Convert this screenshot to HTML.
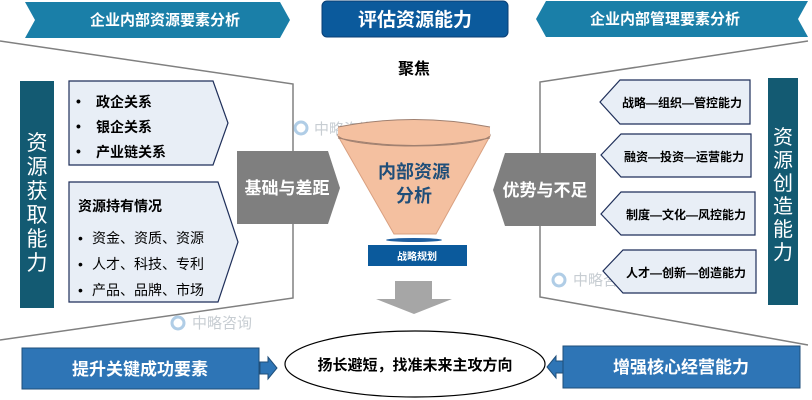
<!DOCTYPE html>
<html><head><meta charset="utf-8"><style>
body{margin:0;background:#fff}
svg{display:block;font-family:"Liberation Sans","Noto Sans CJK SC",sans-serif}
</style></head><body>
<svg width="812" height="400" viewBox="0 0 812 400" xmlns="http://www.w3.org/2000/svg">
<!-- top banners -->
<polygon points="25,2 280,2 290,20 280,38 25,38 35,20" fill="#1a7fa8"/>
<text x="165" y="25" fill="#fff" font-size="15" font-weight="bold" text-anchor="middle">企业内部资源要素分析</text>
<rect x="322" y="1" width="186" height="36" rx="5" fill="#0b5a9c" stroke="#0a3f75"/>
<text x="415" y="26" fill="#fff" font-size="19" font-weight="bold" text-anchor="middle">评估资源能力</text>
<polygon points="546,1 808,1 798,19 808,37 546,37 536,19" fill="#1a7fa8"/>
<text x="665" y="24" fill="#fff" font-size="15" font-weight="bold" text-anchor="middle">企业内部管理要素分析</text>
<!-- frame lines -->
<g stroke="#808080" stroke-width="1.5" fill="none">
<polyline points="0,41 293,84 293,152"/>
<polyline points="293,224 293,298 0,340"/>
<polyline points="808,41 540,82 540,155"/>
<polyline points="540,226 540,297 808,345"/>
</g>
<!-- watermarks -->
<g fill="#b0b8c0" font-size="15" opacity="0.7">
<circle cx="301" cy="128" r="6" fill="none" stroke="#8fb8dc" stroke-width="3"/><text x="314" y="134">中略咨询</text>
<circle cx="178" cy="323" r="6" fill="none" stroke="#8fb8dc" stroke-width="3"/><text x="192" y="328">中略咨询</text>
<circle cx="559" cy="280" r="6" fill="none" stroke="#8fb8dc" stroke-width="3"/><text x="573" y="285">中略咨询</text>
</g>
<!-- left bar -->
<rect x="20" y="81" width="34" height="227" fill="#135a72"/>
<g fill="#fff" font-size="21" text-anchor="middle">
<text x="37" y="150">资</text><text x="37" y="174">源</text><text x="37" y="198">获</text><text x="37" y="222">取</text><text x="37" y="246">能</text><text x="37" y="270">力</text>
</g>
<polygon points="69,81 213,81 228,123 213,165 69,165" fill="#e8eef6" stroke="#1f2f5a" stroke-width="1.2"/>
<g font-size="14" font-weight="bold" fill="#000">
<text x="76" y="106">•</text><text x="96" y="107">政企关系</text>
<text x="76" y="131">•</text><text x="96" y="132">银企关系</text>
<text x="76" y="156">•</text><text x="96" y="157">产业链关系</text>
</g>
<polygon points="69,182 218,182 238,242 218,302 69,302" fill="#e8eef6" stroke="#1f2f5a" stroke-width="1.2"/>
<text x="78" y="211" font-size="14" font-weight="bold">资源持有情况</text>
<g font-size="14" fill="#000">
<text x="78" y="243">•</text><text x="92" y="243">资金、资质、资源</text>
<text x="78" y="269">•</text><text x="92" y="269">人才、科技、专利</text>
<text x="78" y="295">•</text><text x="92" y="295">产品、品牌、市场</text>
</g>
<!-- gray pentagons -->
<polygon points="237,151 328,151 340,188 328,224 237,224" fill="#7f7f7f"/>
<text x="287" y="194" fill="#fff" font-size="17" font-weight="bold" text-anchor="middle">基础与差距</text>
<polygon points="505,153 596,153 596,226 505,226 493,190" fill="#7f7f7f"/>
<text x="545" y="196" fill="#fff" font-size="17" font-weight="bold" text-anchor="middle">优势与不足</text>
<!-- focus -->
<text x="414" y="74" font-size="16" font-weight="bold" text-anchor="middle">聚焦</text>
<!-- funnel -->
<polygon points="338,136 490,136 436,234 394,234" fill="#f4c0a0" stroke="#d9a080" stroke-width="1"/>
<ellipse cx="414" cy="135" rx="76" ry="11" fill="#f4c0a0" stroke="#a08070" stroke-width="1"/>
<rect x="338" y="127" width="152" height="9" fill="#f4c0a0"/>
<path d="M338,127 Q414,112 490,127" fill="#f4c0a0" stroke="#a08070"/>
<path d="M338,138 Q414,153 490,138" fill="none" stroke="#a08070"/>
<text x="414" y="178" font-size="18" font-weight="bold" fill="#1f4e79" text-anchor="middle">内部资源</text>
<text x="414" y="202" font-size="18" font-weight="bold" fill="#1f4e79" text-anchor="middle">分析</text>
<ellipse cx="414" cy="240" rx="28" ry="2" fill="#1f5fa0"/>
<rect x="368" y="245" width="99" height="21" fill="#0b5a9c"/>
<text x="417" y="260" fill="#fff" font-size="10" font-weight="bold" text-anchor="middle">战略规划</text>
<polygon points="395,281 432,281 432,299 452,299 414,314 376,299 395,299" fill="#a6a6a6"/>
<!-- right boxes -->
<g fill="#e8eef6" stroke="#1f2f5a" stroke-width="1.2">
<polygon points="620,80 750,80 750,124 620,124 600,102"/>
<polygon points="621,134 751,134 751,177 621,177 601,155"/>
<polygon points="621,192 755,192 755,235 621,235 601,214"/>
<polygon points="623,250 756,250 756,293 623,293 603,271"/>
</g>
<g font-size="12" font-weight="bold" text-anchor="middle">
<text x="682" y="107">战略—组织—管控能力</text>
<text x="684" y="161">融资—投资—运营能力</text>
<text x="686" y="219">制度—文化—风控能力</text>
<text x="686" y="277">人才—创新—创造能力</text>
</g>
<rect x="768" y="78" width="30" height="227" fill="#135a72"/>
<g fill="#fff" font-size="20" text-anchor="middle">
<text x="783" y="144">资</text><text x="783" y="167">源</text><text x="783" y="190">创</text><text x="783" y="213">造</text><text x="783" y="236">能</text><text x="783" y="259">力</text>
</g>
<!-- bottom -->
<rect x="22" y="348" width="237" height="41" fill="#2e75b6" stroke="#1f4e79"/>
<text x="140" y="375" fill="#fff" font-size="17" font-weight="bold" text-anchor="middle">提升关键成功要素</text>
<polygon points="260,362 268,362 268,357 277,368 268,379 268,374 260,374" fill="#2e75b6" stroke="#1f4e79"/>
<ellipse cx="415" cy="364" rx="130" ry="33" fill="#fff" stroke="#000" stroke-width="1.2"/>
<text x="415" y="370" font-size="15" font-weight="bold" text-anchor="middle">扬长避短，找准未来主攻方向</text>
<rect x="563" y="346" width="237" height="42" fill="#2e75b6" stroke="#1f4e79"/>
<text x="681" y="373" fill="#fff" font-size="17" font-weight="bold" text-anchor="middle">增强核心经营能力</text>
<polygon points="563,361 556,361 556,356 547,367 556,378 556,373 563,373" fill="#2e75b6" stroke="#1f4e79"/>
</svg>
</body></html>
